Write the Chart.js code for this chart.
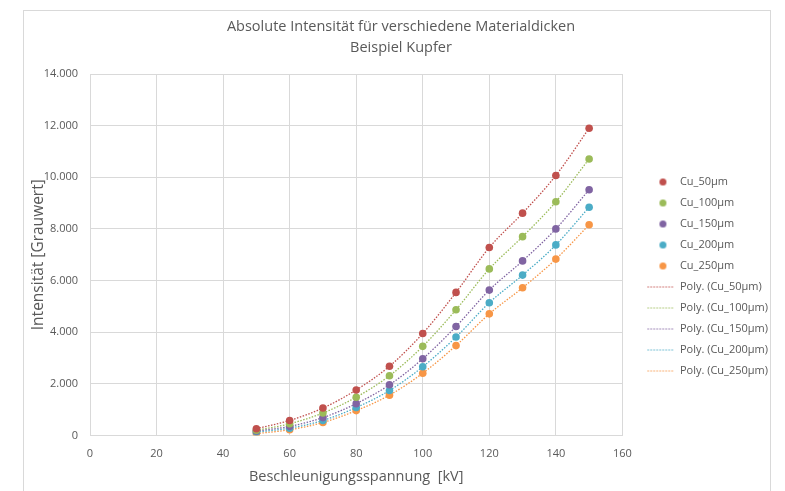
<!DOCTYPE html>
<html>
<head>
<meta charset="utf-8">
<script src="https://cdn.jsdelivr.net/npm/chart.js@4.4.1/dist/chart.umd.min.js"></script>
<style>
    body { margin: 0; background: #fff; overflow: hidden; }
    #frame {
        position: absolute; left: 23px; top: 10px;
        width: 746px; height: 490px;
        border: 1px solid #d9d9d9;
    }
    #chart { position: absolute; left: 24px; top: 11px; }
</style>
</head>
<body>
<div id="frame"></div>
<canvas id="chart" width="754" height="481"></canvas>
<script>
const voltage = [50, 60, 70, 80, 90, 100, 110, 120, 130, 140, 150];
const cu50  = [260, 580, 1060, 1760, 2680, 3950, 5540, 7280, 8610, 10070, 11900];
const cu100 = [200, 450, 870, 1480, 2310, 3450, 4870, 6450, 7700, 9050, 10710];
const cu150 = [170, 350, 690, 1230, 1960, 2970, 4220, 5630, 6760, 8000, 9520];
const cu200 = [130, 280, 580, 1080, 1740, 2660, 3810, 5140, 6210, 7380, 8840];
const cu250 = [70, 220, 500, 960, 1560, 2410, 3480, 4710, 5720, 6830, 8160];

const seriesNames = ['Cu_50µm', 'Cu_100µm', 'Cu_150µm', 'Cu_200µm', 'Cu_250µm'];
const seriesValues = [cu50, cu100, cu150, cu200, cu250];
const colors = ['#C0504D', '#9BBB59', '#8064A2', '#4BACC6', '#F79646'];

const xTicks = [0, 20, 40, 60, 80, 100, 120, 140, 160];
const yTicks = [0, 2000, 4000, 6000, 8000, 10000, 12000, 14000];

const textColor = '#595959';
const gridColor = '#d9d9d9';
const fontFamily = '"Open Sans", "Liberation Sans", sans-serif';
const iconWidth = 42;

function toPoints(values) {
    return voltage.map((v, i) => ({ x: v, y: values[i] }));
}

// legend icons (right part of a wider box, so the legend keeps a gap to the plot)
function dotIcon(color) {
    const c = document.createElement('canvas');
    c.width = iconWidth; c.height = 9;
    const g = c.getContext('2d');
    g.fillStyle = color;
    g.beginPath();
    g.arc(iconWidth - 11.5, 4.5, 3.5, 0, Math.PI * 2);
    g.fill();
    return c;
}
function lineIcon(color) {
    const c = document.createElement('canvas');
    c.width = iconWidth; c.height = 3;
    const g = c.getContext('2d');
    g.strokeStyle = color;
    g.lineWidth = 1.2;
    g.setLineDash([1.5, 1.5]);
    g.beginPath();
    g.moveTo(iconWidth - 27, 1.5);
    g.lineTo(iconWidth - 1, 1.5);
    g.stroke();
    return c;
}

const datasets = [];
seriesValues.forEach((vals, i) => {
    datasets.push({
        label: seriesNames[i],
        data: toPoints(vals),
        showLine: false,
        pointRadius: 3.8,
        pointHoverRadius: 3.8,
        pointBackgroundColor: colors[i],
        pointBorderColor: colors[i],
        pointBorderWidth: 0
    });
});
seriesValues.forEach((vals, i) => {
    datasets.push({
        label: 'Poly. (' + seriesNames[i] + ')',
        data: toPoints(vals),
        showLine: true,
        pointRadius: 0,
        borderColor: colors[i],
        borderWidth: 1.3,
        borderDash: [1.5, 1.5],
        cubicInterpolationMode: 'monotone',
        fill: false
    });
});

function formatDe(v) {
    return String(v).replace(/\B(?=(\d{3})+(?!\d))/g, '.');
}

new Chart(document.getElementById('chart'), {
    type: 'scatter',
    data: { datasets: datasets },
    options: {
        responsive: false,
        animation: false,
        devicePixelRatio: 1,
        layout: { padding: { left: 0, right: 0, top: 0, bottom: 6 } },
        plugins: {
            title: {
                display: true,
                text: ['Absolute Intensität für verschiedene Materialdicken', 'Beispiel Kupfer'],
                color: textColor,
                font: { family: fontFamily, size: 14.5, weight: 'normal', lineHeight: 1.45 },
                padding: { top: 5, bottom: 16 }
            },
            legend: {
                position: 'right',
                align: 'center',
                title: {
                    display: true,
                    text: ' ',
                    font: { size: 10, lineHeight: 1.2 },
                    padding: { top: 44, bottom: 0 }
                },
                labels: {
                    usePointStyle: true,
                    pointStyleWidth: iconWidth,
                    boxHeight: 5,
                    color: textColor,
                    font: { family: fontFamily, size: 11 },
                    padding: 10,
                    generateLabels(chart) {
                        const items = Chart.defaults.plugins.legend.labels.generateLabels(chart);
                        items.forEach((it, i) => {
                            it.pointStyle = i < 5 ? dotIcon(colors[i]) : lineIcon(colors[i - 5]);
                        });
                        return items;
                    }
                }
            },
            tooltip: { enabled: false }
        },
        scales: {
            x: {
                type: 'linear',
                min: 0,
                max: 160,
                afterBuildTicks(axis) { axis.ticks = xTicks.map(v => ({ value: v })); },
                grid: { color: gridColor, drawTicks: false },
                border: { color: gridColor },
                ticks: {
                    color: textColor,
                    font: { family: fontFamily, size: 11 },
                    padding: 12
                },
                title: {
                    display: true,
                    text: 'Beschleunigungsspannung  [kV]',
                    color: textColor,
                    font: { family: fontFamily, size: 14.5 },
                    padding: { top: -4, bottom: 0 }
                }
            },
            y: {
                min: 0,
                max: 14000,
                afterBuildTicks(axis) { axis.ticks = yTicks.map(v => ({ value: v })); },
                afterFit(axis) { axis.width = 66; },
                grid: { color: gridColor, drawTicks: false },
                border: { display: false },
                ticks: {
                    color: textColor,
                    font: { family: fontFamily, size: 11 },
                    padding: 12,
                    callback: v => formatDe(v)
                },
                title: {
                    display: true,
                    text: 'Intensität [Grauwert]',
                    color: textColor,
                    font: { family: fontFamily, size: 15.5, lineHeight: 1 },
                    padding: { top: 7, bottom: 0 }
                }
            }
        }
    }
});
</script>
</body>
</html>
